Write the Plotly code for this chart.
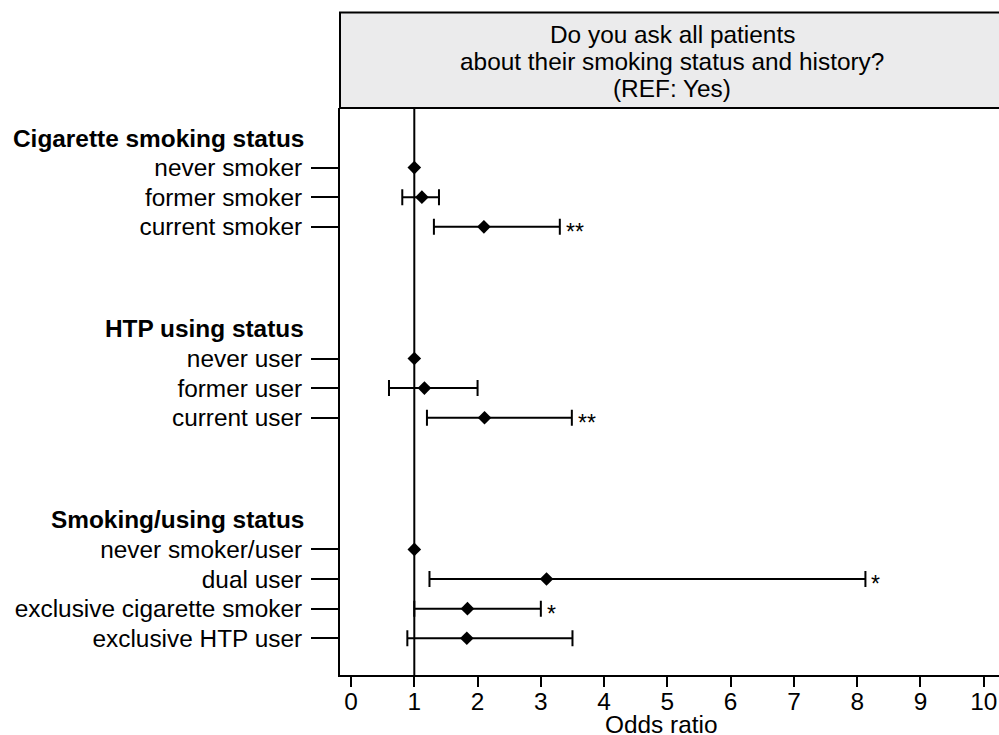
import plotly.graph_objects as go

# ---------------- data ----------------
group_titles = ["Cigarette smoking status", "HTP using status", "Smoking/using status"]
group_items = [
    ["never smoker", "former smoker", "current smoker"],
    ["never user", "former user", "current user"],
    ["never smoker/user", "dual user", "exclusive cigarette smoker", "exclusive HTP user"],
]
odds_ratio = [1.00, 1.12, 2.10, 1.00, 1.16, 2.11, 1.00, 3.09, 1.84, 1.83]
ci_lower = [None, 0.81, 1.31, None, 0.60, 1.20, None, 1.24, 1.00, 0.89]
ci_upper = [None, 1.39, 3.30, None, 2.00, 3.49, None, 8.13, 3.00, 3.50]
significance = ["", "", "**", "", "", "**", "", "*", "*", ""]
x_ticks = list(range(0, 11))
header_lines = ["Do you ask all patients", "about their smoking status and history?", "(REF: Yes)"]
x_title = "Odds ratio"
reference_value = 1

# ---------------- layout helpers ----------------
FONT = "Liberation Sans, Arial, Helvetica, sans-serif"
FS = 24.4
GAP = 3.45

header_y, item_y, item_labels = [], [], []
pos = 0.0
for title, items in zip(group_titles, group_items):
    header_y.append(pos)
    for k, it in enumerate(items):
        item_y.append(pos + k + 1)
        item_labels.append(it)
    pos = pos + len(items) + GAP

ci_idx = [i for i in range(len(odds_ratio)) if ci_lower[i] is not None]
ref_idx = [i for i in range(len(odds_ratio)) if ci_lower[i] is None]

fig = go.Figure()

fig.add_trace(go.Scatter(
    x=[odds_ratio[i] for i in ci_idx],
    y=[item_y[i] for i in ci_idx],
    mode="markers",
    marker=dict(symbol="diamond", size=10.5, color="black"),
    error_x=dict(
        type="data", symmetric=False,
        array=[ci_upper[i] - odds_ratio[i] for i in ci_idx],
        arrayminus=[odds_ratio[i] - ci_lower[i] for i in ci_idx],
        color="black", thickness=2, width=8,
    ),
    showlegend=False, hoverinfo="skip",
))

fig.add_trace(go.Scatter(
    x=[odds_ratio[i] for i in ref_idx],
    y=[item_y[i] for i in ref_idx],
    mode="markers",
    marker=dict(symbol="diamond", size=10.5, color="black"),
    showlegend=False, hoverinfo="skip",
))

for i in range(len(significance)):
    if significance[i]:
        fig.add_annotation(text=significance[i], x=ci_upper[i], y=item_y[i],
                           xref="x", yref="y", xanchor="left", yanchor="middle",
                           xshift=4, yshift=-5, showarrow=False,
                           font=dict(family=FONT, size=23, color="black"))

W, H = 999, 735
ML, MR, MT, MB = 340, 0, 108, 60
plot_h = H - MT - MB
plot_w = W - ML - MR

# reference line at OR = 1
fig.add_shape(type="line", xref="x", yref="paper", x0=reference_value, x1=reference_value,
              y0=0, y1=1, line=dict(color="black", width=2), layer="below")

# header strip
fig.add_shape(type="rect", xref="paper", yref="paper", x0=0, x1=1.05,
              y0=1, y1=1 + (MT - 12.5) / plot_h,
              fillcolor="#ebebec", line=dict(color="black", width=2))

for line, yc in zip(header_lines, [34, 61.5, 88.5]):
    fig.add_annotation(text=line, xref="paper", yref="paper",
                       x=(672 - ML) / plot_w, y=1 + (MT - yc) / plot_h,
                       xanchor="center", yanchor="middle", showarrow=False,
                       font=dict(family=FONT, size=FS, color="black"))

for t, yv in zip(group_titles, header_y):
    fig.add_annotation(text="<b>" + t + "</b>", xref="paper", yref="y",
                       x=(306 - ML) / plot_w, y=yv, xanchor="right", yanchor="middle",
                       showarrow=False, font=dict(family=FONT, size=FS, color="black"))

# x-axis title
fig.add_annotation(text=x_title, xref="paper", yref="paper",
                   x=(661 - ML) / plot_w, y=-(724 - (H - MB)) / plot_h,
                   xanchor="center", yanchor="middle", showarrow=False,
                   font=dict(family=FONT, size=FS, color="black"))

row_px = 29.6
fig.update_layout(
    width=W, height=H,
    margin=dict(l=ML, r=MR, t=MT, b=MB, autoexpand=False),
    paper_bgcolor="white", plot_bgcolor="white",
    font=dict(family=FONT, size=FS, color="black"),
    xaxis=dict(
        range=[1 - (414.3 - ML) / 63.27, 1 - (414.3 - ML) / 63.27 + plot_w / 63.27],
        tickvals=x_ticks, ticktext=[str(v) for v in x_ticks],
        ticks="outside", ticklen=10, tickwidth=2, tickcolor="black",
        ticklabelstandoff=-6,
        showline=True, linecolor="black", linewidth=2,
        showgrid=False, zeroline=False, automargin=False,
        tickfont=dict(family=FONT, size=FS, color="black"),
    ),
    yaxis=dict(
        range=[(675 - 138) / row_px, (MT - 138) / row_px],
        tickvals=item_y, ticktext=item_labels,
        ticks="outside", ticklen=27, tickwidth=2, tickcolor="black",
        ticklabelstandoff=4,
        showline=True, linecolor="black", linewidth=2,
        showgrid=False, zeroline=False, automargin=False,
        tickfont=dict(family=FONT, size=FS, color="black"),
    ),
)

fig.write_html(
    "out.html",
    config={"displayModeBar": False},
    post_script="document.body.style.margin='0';document.body.style.overflow='hidden';",
)
